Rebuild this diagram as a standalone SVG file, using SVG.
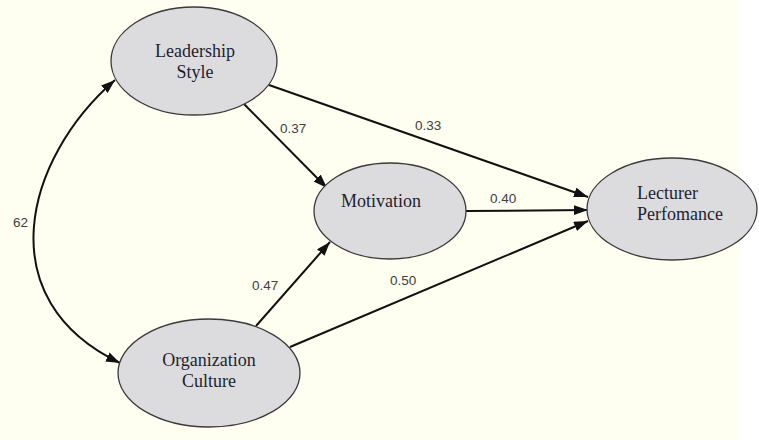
<svg xmlns="http://www.w3.org/2000/svg" width="759" height="440" viewBox="0 0 759 440">
  <style>
    .node ellipse { fill: #dcdcdf; stroke: #3a3a3a; stroke-width: 1.3; }
    .node text { font-family: "Liberation Serif", "Times New Roman", serif; font-size: 18px; fill: #1e1e2e; }
    .edge { fill: none; stroke: #111; stroke-width: 2; marker-end: url(#arrow); }
    .lbl { font-family: "Liberation Sans", Arial, sans-serif; font-size: 13.5px; fill: #404040; }
  </style>
  <defs>
    <marker id="arrow" markerUnits="userSpaceOnUse" markerWidth="15" markerHeight="11" refX="14" refY="5" orient="auto-start-reverse">
      <path d="M0,0 L14,5 L0,10 z" fill="#111"/>
    </marker>
  </defs>

  <!-- page background -->
  <rect x="0" y="0" width="759" height="440" fill="#ffffff"/>
  <rect x="0" y="0" width="740" height="440" fill="#fefff0"/>

  <!-- connectors -->
  <g id="connectors">
    <path class="edge" d="M115,80 C24,159 -12,300 120,363" marker-start="url(#arrow)"/>
    <path class="edge" d="M244,104 L327,188"/>
    <path class="edge" d="M269,85 L588,197"/>
    <path class="edge" d="M466,211 L588,210"/>
    <path class="edge" d="M256,326 L330,242"/>
    <path class="edge" d="M290,347 L588,221"/>
    <text class="lbl" x="13" y="227">62</text>
    <text class="lbl" x="280" y="133">0.37</text>
    <text class="lbl" x="415" y="130">0.33</text>
    <text class="lbl" x="490" y="203">0.40</text>
    <text class="lbl" x="252" y="290">0.47</text>
    <text class="lbl" x="390" y="285">0.50</text>
  </g>

  <g id="leadership-style" class="node">
    <ellipse cx="194" cy="61" rx="83" ry="54"/>
    <text x="195" y="57" text-anchor="middle">Leadership</text>
    <text x="195" y="78" text-anchor="middle">Style</text>
  </g>

  <g id="motivation" class="node">
    <ellipse cx="390" cy="211" rx="76" ry="48"/>
    <text x="381" y="207" text-anchor="middle">Motivation</text>
  </g>

  <g id="lecturer-performance" class="node">
    <ellipse cx="672" cy="209" rx="85" ry="51"/>
    <text x="637" y="199">Lecturer</text>
    <text x="637" y="220">Perfomance</text>
  </g>

  <g id="organization-culture" class="node">
    <ellipse cx="209" cy="373" rx="91" ry="54"/>
    <text x="209" y="366" text-anchor="middle">Organization</text>
    <text x="209" y="387" text-anchor="middle">Culture</text>
  </g>
</svg>
